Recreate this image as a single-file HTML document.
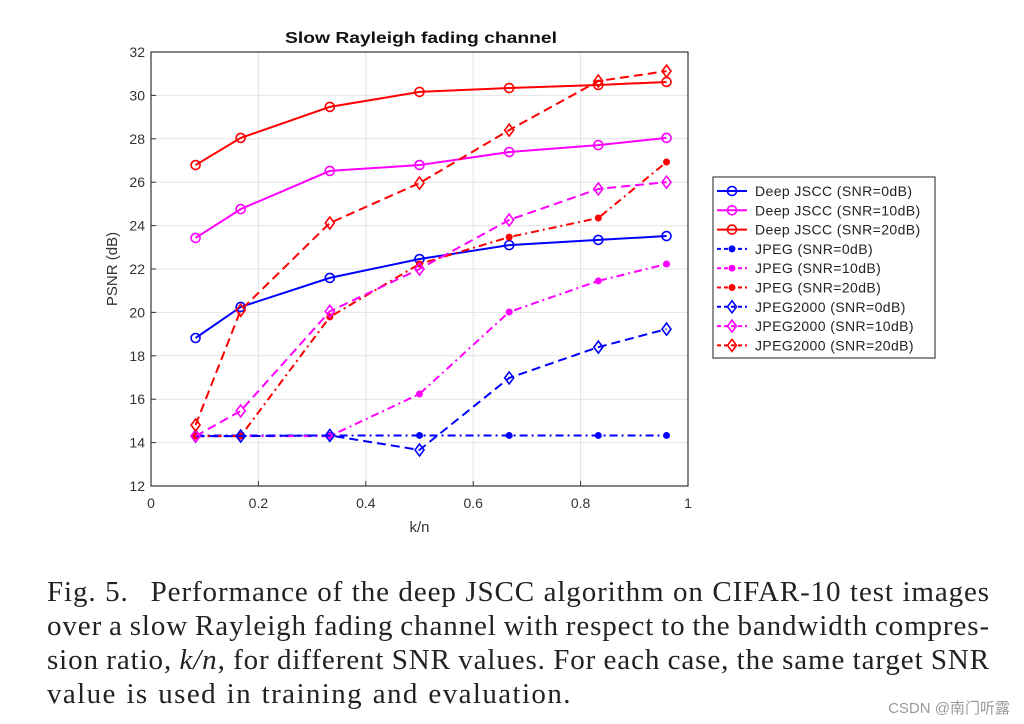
<!DOCTYPE html>
<html><head><meta charset="utf-8"><style>
body{margin:0;background:#fff;width:1024px;height:724px;overflow:hidden;position:relative;font-family:"Liberation Sans",sans-serif}
#cap{position:absolute;left:47px;top:575px;width:943px;font-family:"Liberation Serif",serif;font-size:29px;line-height:34px;color:#222;letter-spacing:0.9px;word-spacing:-3px}
#cap div{text-align:justify;text-align-last:justify;white-space:nowrap}
#cap div.last{text-align-last:left;word-spacing:1px;letter-spacing:1.4px}
#wm{position:absolute;right:14px;bottom:6px;font-size:15px;color:#999;font-family:"Liberation Sans","Noto Sans CJK SC",sans-serif}
</style></head><body>
<svg id="chart" width="1024" height="570" style="position:absolute;left:0;top:0"></svg>
<div id="cap">
<div>Fig.&nbsp;5.<span style="display:inline-block;width:22px"></span>Performance of the deep JSCC algorithm on CIFAR-10 test images</div>
<div>over a slow Rayleigh fading channel with respect to the bandwidth compres-</div>
<div>sion ratio, <i>k/n</i>, for different SNR values. For each case, the same target SNR</div>
<div class="last">value is used in training and evaluation.</div>
</div>
<div id="wm">CSDN @南门听露</div>
<script>
const xs=[0.083,0.167,0.333,0.5,0.667,0.833,0.96];
const deep0=[18.82,20.25,21.59,22.46,23.1,23.34,23.52];
const deep10=[23.43,24.76,26.52,26.79,27.39,27.71,28.04];
const deep20=[26.79,28.04,29.47,30.16,30.34,30.48,30.62];
const jpeg0=[14.33,14.33,14.33,14.33,14.33,14.33,14.33];
const jpeg10=[14.3,14.3,14.3,16.24,20.02,21.45,22.23];
const jpeg20=[14.3,14.3,19.79,22.23,23.47,24.35,26.93];
const j2k0=[14.3,14.3,14.33,13.66,16.98,18.4,19.23];
const j2k10=[14.3,15.46,20.05,22.0,24.26,25.69,26.0];
const j2k20=[14.81,20.1,24.12,25.96,28.4,30.66,31.12];
const xTicks=[0,0.2,0.4,0.6,0.8,1];
const yTicks=[12,14,16,18,20,22,24,26,28,30,32];
const series=[
 ["Deep JSCC (SNR=0dB)",deep0,"#0000ff","","o"],
 ["Deep JSCC (SNR=10dB)",deep10,"#ff00ff","","o"],
 ["Deep JSCC (SNR=20dB)",deep20,"#ff0000","","o"],
 ["JPEG (SNR=0dB)",jpeg0,"#0000ff","8,4,2,4","*"],
 ["JPEG (SNR=10dB)",jpeg10,"#ff00ff","8,4,2,4","*"],
 ["JPEG (SNR=20dB)",jpeg20,"#ff0000","8,4,2,4","*"],
 ["JPEG2000 (SNR=0dB)",j2k0,"#0000ff","9,5","d"],
 ["JPEG2000 (SNR=10dB)",j2k10,"#ff00ff","9,5","d"],
 ["JPEG2000 (SNR=20dB)",j2k20,"#ff0000","9,5","d"]];
const L=151,R=688,T=52,B=486;
const X=v=>L+v*(R-L), Y=v=>B-(v-12)/20*(B-T);
const svg=document.getElementById('chart');const NS="http://www.w3.org/2000/svg";
function mk(t,a,p){const e=document.createElementNS(NS,t);for(const k in a)e.setAttribute(k,a[k]);(p||svg).appendChild(e);return e;}
let r=mk('rect',{x:L,y:T,width:R-L,height:B-T,fill:'#fff'});

xTicks.forEach(t=>{mk('line',{x1:X(t),x2:X(t),y1:T,y2:B,stroke:'#e4e4e4'});
 mk('line',{x1:X(t),x2:X(t),y1:B,y2:B-5,stroke:'#333'});
 let tx=mk('text',{x:X(t),y:B+22,'text-anchor':'middle','font-size':14,fill:'#333'});tx.textContent=t;
 });
yTicks.forEach(t=>{mk('line',{x1:L,x2:R,y1:Y(t),y2:Y(t),stroke:'#e4e4e4'});
 mk('line',{x1:L,x2:L+5,y1:Y(t),y2:Y(t),stroke:'#333'});
 let tx=mk('text',{x:L-6,y:Y(t)+5,'text-anchor':'end','font-size':14,fill:'#333'});tx.textContent=t;
 });
mk('rect',{x:L,y:T,width:R-L,height:B-T,fill:'none',stroke:'#333','stroke-width':1.2});
function marker(g,type,x,y,c){
 if(type=='o')mk('circle',{cx:x,cy:y,r:4.5,fill:'none',stroke:c,'stroke-width':1.6},g);
 else if(type=='*')mk('circle',{cx:x,cy:y,r:3.5,fill:c},g);
 else mk('path',{d:`M${x} ${y-6}L${x+4.5} ${y}L${x} ${y+6}L${x-4.5} ${y}Z`,fill:'none',stroke:c,'stroke-width':1.6},g);}
series.forEach(s=>{const g=mk('g',{});
 
 mk('polyline',{points:xs.map((x,i)=>X(x)+','+Y(s[1][i])).join(' '),fill:'none',stroke:s[2],'stroke-width':2,'stroke-dasharray':s[3]},g);
 xs.forEach((x,i)=>marker(g,s[4],X(x),Y(s[1][i]),s[2]));});
let t=mk('text',{x:285,y:43,'font-size':16,'font-weight':'bold',fill:'#111',textLength:272,lengthAdjust:'spacingAndGlyphs'});t.textContent='Slow Rayleigh fading channel';

t=mk('text',{x:(L+R)/2,y:532,'text-anchor':'middle','font-size':15,fill:'#333'});t.textContent='k/n';

t=mk('text',{x:0,y:0,'text-anchor':'middle','font-size':15,fill:'#333',transform:'translate(117,269) rotate(-90)'});t.textContent='PSNR (dB)';

const lg=mk('g',{});
mk('rect',{x:713,y:177,width:222,height:181,fill:'#fff',stroke:'#444','stroke-width':1.2},lg);
series.forEach((s,i)=>{const y=191+i*19.3;
 mk('line',{x1:717,x2:747,y1:y,y2:y,stroke:s[2],'stroke-width':2,'stroke-dasharray':s[3]?'4,3':''},lg);
 marker(lg,s[4],732,y,s[2]);
 let tx=mk('text',{x:755,y:y+5,'font-size':14,fill:'#222','letter-spacing':0.4},lg);tx.textContent=s[0];
 });
</script>
</body></html>
